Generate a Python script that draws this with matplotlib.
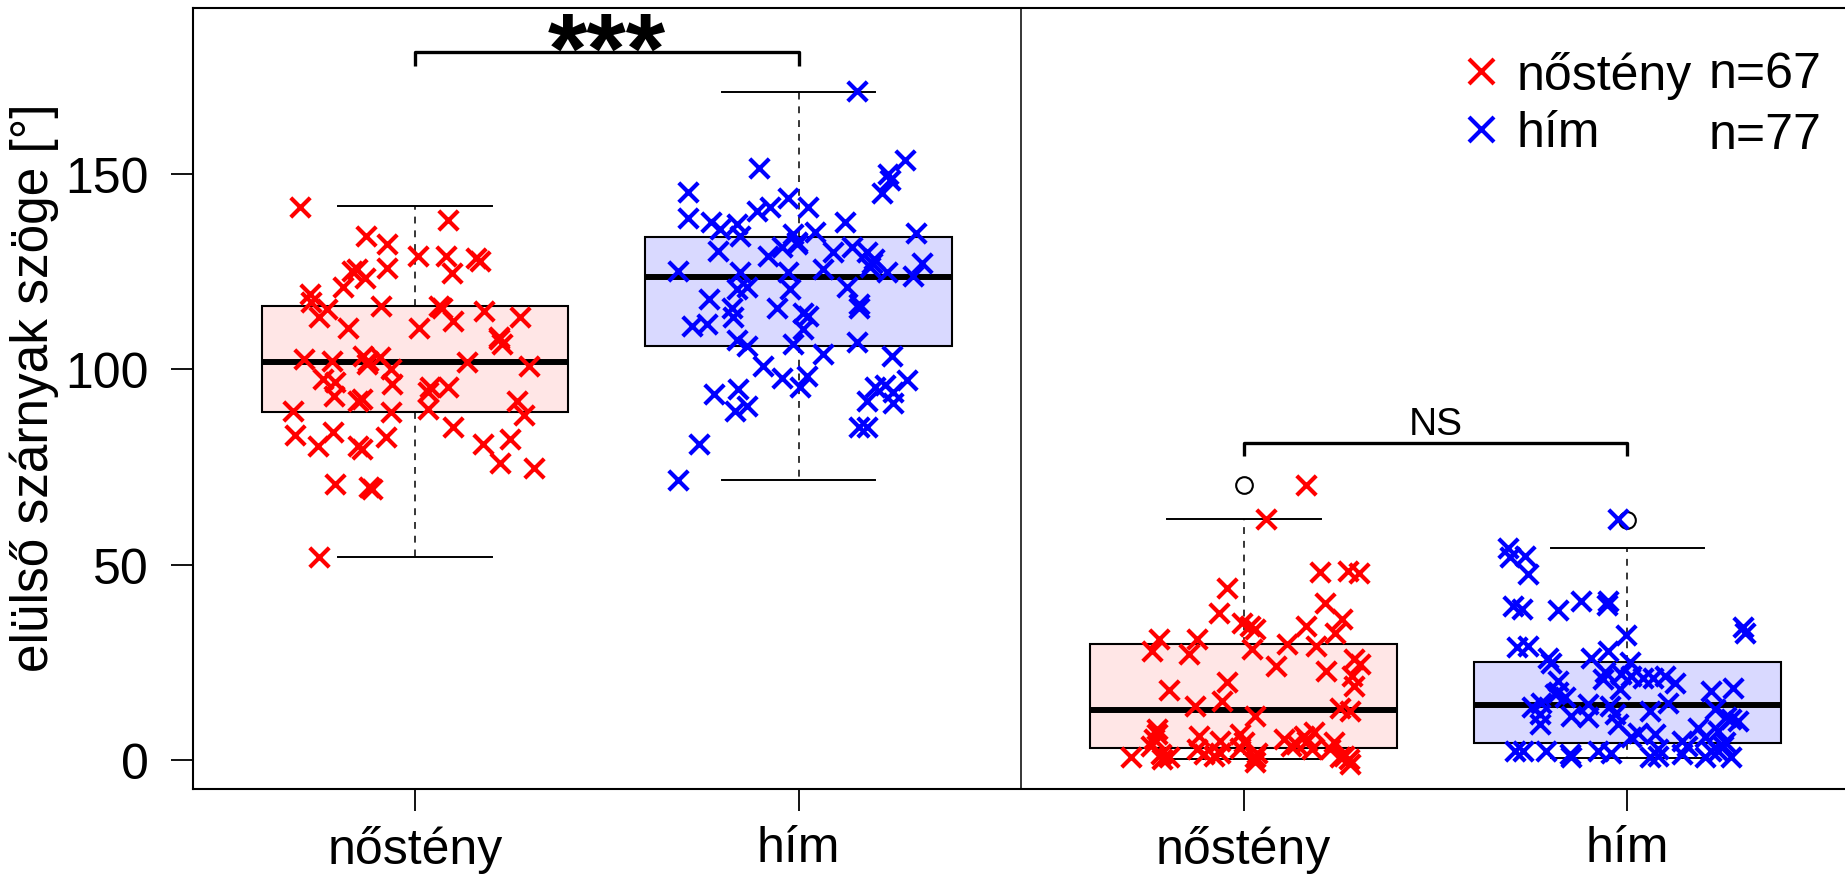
import matplotlib
matplotlib.use('Agg')
import matplotlib.pyplot as plt
from matplotlib.lines import Line2D
import numpy as np

plt.rcParams['font.family'] = ['Liberation Sans', 'DejaVu Sans']

# box positions: two panels (left / right), female then male in each
positions = [1.0, 2.0, 3.16, 4.16]
xlabels = ['nőstény', 'hím', 'nőstény', 'hím']
group_names = ['nőstény', 'hím']
group_n = [67, 77]

# box statistics
box_q1 = [89.2, 106.0, 3.3, 4.4]
box_med = [101.9, 123.5, 12.9, 14.2]
box_q3 = [116.3, 133.9, 29.8, 25.2]
box_lo = [52.1, 71.7, 0.3, 0.5]
box_hi = [141.7, 170.9, 61.7, 54.3]
box_fliers = [[], [], [70.4], [61.5]]

# jittered points: (offset from box centre, value)
left_f = [(-0.30, 141.4), (0.085, 138.2), (-0.129, 134.0), (-0.072, 132.0), (-0.072, 126.0),
          (0.007, 128.9), (0.08, 128.9), (0.096, 124.6), (0.158, 128.4), (0.17, 127.8),
          (-0.165, 125.2), (-0.152, 125.6), (-0.13, 123.3), (-0.188, 121.0), (-0.274, 119.3),
          (-0.27, 117.1), (-0.23, 115.4), (-0.25, 113.3), (-0.174, 110.7), (-0.089, 116.1),
          (0.011, 110.7), (0.063, 116.3), (0.07, 115.6), (0.10, 112.4), (0.18, 115.0),
          (0.274, 113.3), (0.22, 108.4), (0.226, 106.5), (-0.289, 102.6), (-0.217, 102.2),
          (-0.136, 103.5), (-0.122, 102.2), (-0.091, 103.1), (-0.126, 101.4), (-0.063, 100.1),
          (0.135, 101.8), (0.298, 100.9), (-0.239, 97.5), (-0.208, 96.7), (-0.21, 93.3),
          (-0.061, 96.2), (-0.139, 92.4), (-0.148, 92.0), (0.039, 95.4), (0.035, 94.1),
          (0.087, 95.6), (0.035, 89.8), (-0.063, 89.2), (-0.317, 89.4), (0.265, 92.0),
          (0.285, 88.3), (-0.314, 83.2), (-0.254, 80.5), (-0.213, 84.1), (-0.148, 80.5),
          (-0.139, 79.6), (-0.076, 82.6), (0.10, 85.2), (0.178, 80.9), (0.248, 82.3),
          (0.222, 76.0), (0.31, 74.9), (-0.209, 70.7), (-0.119, 69.8), (-0.112, 69.4),
          (-0.249, 52.1), (0.22, 107.8)]

left_m = [(0.151, 171.1), (-0.103, 151.6), (0.277, 153.6), (0.234, 150.0), (0.238, 148.3),
          (0.216, 145.2), (-0.289, 145.4), (-0.289, 138.6), (-0.228, 137.6), (-0.205, 135.9),
          (-0.162, 137.2), (-0.153, 134.1), (-0.109, 140.6), (-0.075, 141.4), (-0.027, 143.7),
          (0.025, 141.6), (0.043, 135.0), (-0.014, 134.6), (-0.005, 132.6), (0.121, 137.6),
          (0.306, 134.8), (-0.209, 130.3), (-0.044, 131.2), (-0.079, 129.1), (0.09, 129.9),
          (0.138, 131.2), (0.177, 129.9), (0.195, 128.2), (0.186, 126.1), (0.229, 124.8),
          (0.321, 127.3), (0.299, 123.9), (-0.315, 125.2), (0.064, 125.6), (-0.027, 124.8),
          (-0.153, 124.8), (-0.136, 121.0), (-0.162, 120.5), (-0.023, 120.5), (0.125, 121.0),
          (-0.235, 117.9), (-0.175, 115.8), (-0.057, 115.8), (0.156, 116.7), (0.158, 115.8),
          (0.012, 114.5), (0.025, 113.7), (-0.279, 111.1), (-0.24, 111.5), (-0.17, 113.3),
          (0.012, 110.3), (-0.162, 107.6), (-0.136, 106.0), (-0.014, 106.4), (0.151, 106.9),
          (0.064, 103.9), (0.242, 103.5), (-0.092, 100.9), (-0.044, 97.9), (0.021, 98.3),
          (0.003, 95.4), (0.281, 97.3), (0.199, 95.6), (0.225, 96.0), (0.247, 91.5),
          (0.177, 91.9), (-0.222, 93.7), (-0.157, 95.0), (-0.136, 90.7), (-0.166, 89.4),
          (0.156, 85.2), (0.177, 85.2), (-0.259, 81.0), (-0.315, 71.7), (-0.005, 132.0),
          (0.19, 127.3), (0.247, 94.1)]

right_f = [(0.163, 70.5), (0.058, 61.7), (0.198, 48.1), (0.272, 48.5), (0.30, 47.9),
           (-0.043, 44.2), (-0.065, 37.8), (0.213, 40.2), (-0.004, 35.1), (0.016, 34.4),
           (0.028, 33.5), (0.161, 34.4), (0.256, 36.1), (0.239, 32.7), (-0.222, 31.0),
           (-0.239, 28.0), (-0.123, 31.0), (-0.143, 27.2), (0.113, 29.8), (0.022, 28.4),
           (0.187, 29.3), (0.083, 24.2), (0.287, 25.9), (0.304, 24.6), (0.215, 22.9),
           (0.282, 21.6), (0.287, 19.1), (-0.195, 18.0), (-0.043, 20.0), (-0.056, 15.3),
           (-0.126, 14.0), (0.252, 13.5), (0.278, 12.7), (0.028, 11.4), (-0.226, 8.0),
           (-0.226, 6.7), (-0.235, 5.4), (-0.117, 6.3), (-0.061, 5.0), (-0.009, 6.7),
           (0.0, 4.6), (0.104, 5.4), (0.135, 4.2), (0.182, 7.2), (0.165, 5.0),
           (0.235, 4.6), (0.226, 2.9), (-0.293, 0.8), (-0.217, 1.6), (-0.195, 1.0),
           (-0.104, 1.6), (-0.078, 1.2), (0.03, 0.8), (0.035, 2.0), (0.252, 0.8),
           (0.274, 0.3), (0.261, 1.2), (-0.061, 2.0), (-0.009, 3.3), (0.122, 3.7),
           (-0.243, 3.7), (-0.122, 2.9), (0.178, 2.9), (0.03, -0.5), (0.278, -0.9),
           (-0.213, 0.3), (0.156, 6.3)]

right_m = [(-0.024, 61.7), (-0.311, 54.4), (-0.307, 51.9), (-0.268, 52.2), (-0.259, 47.7),
           (-0.298, 39.5), (-0.276, 38.7), (-0.181, 38.4), (-0.12, 40.8), (-0.05, 40.8),
           (-0.052, 39.7), (0.30, 34.0), (0.306, 32.7), (-0.003, 32.0), (-0.289, 28.9),
           (-0.259, 29.3), (-0.207, 26.3), (-0.198, 25.0), (-0.094, 26.3), (-0.05, 28.0),
           (0.006, 25.2), (-0.063, 20.8), (-0.016, 22.1), (0.01, 21.6), (0.041, 21.2),
           (0.067, 21.2), (0.097, 21.6), (0.123, 19.9), (-0.181, 20.4), (-0.02, 18.2),
           (0.219, 17.8), (0.274, 18.6), (-0.19, 17.0), (-0.163, 16.1), (-0.226, 14.8),
           (-0.102, 14.4), (-0.046, 14.0), (0.058, 12.7), (0.106, 14.8), (0.228, 13.1),
           (-0.228, 11.8), (-0.146, 11.4), (-0.102, 11.0), (-0.033, 11.8), (0.288, 10.1),
           (0.258, 11.0), (-0.024, 9.3), (-0.228, 9.3), (0.184, 8.4), (0.236, 7.6),
           (0.01, 5.9), (0.071, 6.8), (0.141, 5.0), (0.202, 5.9), (0.254, 4.6),
           (-0.294, 2.5), (-0.272, 2.5), (-0.211, 2.5), (-0.15, 1.6), (-0.146, 0.8),
           (-0.076, 2.5), (-0.042, 2.0), (0.058, 0.8), (0.08, 1.2), (0.141, 1.6),
           (0.202, 0.8), (0.236, 2.5), (0.271, 0.8), (0.25, 3.7), (0.028, 7.1),
           (0.219, 2.5), (0.154, 3.7), (-0.25, 13.6), (-0.181, 17.4), (0.08, 2.9),
           (-0.059, 22.5), (0.271, 10.6)]

point_groups = [left_f, left_m, right_f, right_m]
point_colors = ['#FF0000', '#0000FF', '#FF0000', '#0000FF']
box_fill = ['#FFE6E6', '#D9D9FF', '#FFE6E6', '#D9D9FF']

fig = plt.figure(figsize=(18.45, 8.78), dpi=100)
ax = fig.add_axes([193 / 1845, 88 / 878, 1652 / 1845, 781 / 878])

stats = []
for i in range(4):
    stats.append(dict(med=box_med[i], q1=box_q1[i], q3=box_q3[i],
                      whislo=box_lo[i], whishi=box_hi[i], fliers=box_fliers[i]))

bp = ax.bxp(stats, positions=positions, widths=0.8, capwidths=0.4, patch_artist=True,
            boxprops=dict(linewidth=1.5, edgecolor='black'),
            medianprops=dict(color='black', linewidth=4.3, solid_capstyle='butt'),
            whiskerprops=dict(color='black', linewidth=1.1, linestyle=(0, (4.5, 4.5))),
            capprops=dict(color='black', linewidth=1.4),
            flierprops=dict(marker='o', markerfacecolor='none', markeredgecolor='black',
                            markersize=12, markeredgewidth=1.5))
for patch, fc in zip(bp['boxes'], box_fill):
    patch.set_facecolor(fc)

for pos, pts, col in zip(positions, point_groups, point_colors):
    jit = np.array([p[0] for p in pts])
    val = np.array([p[1] for p in pts])
    ax.scatter(pos + jit, val, marker='x', s=14 ** 2, c=col, linewidths=3.0, zorder=3)

# panel divider
ax.axvline((positions[1] + positions[2]) / 2, color='black', lw=1.1)

# significance brackets
ax.plot([positions[0], positions[0], positions[1], positions[1]], [177.6, 181.2, 181.2, 177.6],
        color='black', lw=2.4, solid_capstyle='butt')
ax.text((positions[0] + positions[1]) / 2, 173.5, '***', ha='center', va='baseline',
        fontsize=73, fontweight='bold')
ax.plot([positions[2], positions[2], positions[3], positions[3]], [77.9, 81.1, 81.1, 77.9],
        color='black', lw=2.4, solid_capstyle='butt')
ax.text((positions[2] + positions[3]) / 2, 83.5, 'NS', ha='center', va='baseline', fontsize=28)

ax.set_xlim(0.4214, 4.727)
ax.set_ylim(-7.3, 192.4)
ax.set_xticks(positions)
ax.set_xticklabels(xlabels)
ax.set_yticks([0, 50, 100, 150])
ax.tick_params(axis='both', length=16, width=1.3, labelsize=36)
ax.tick_params(axis='y', pad=16)
ax.tick_params(axis='x', pad=10)
for s in ['left', 'bottom', 'top']:
    ax.spines[s].set_linewidth(1.5)
ax.spines['right'].set_visible(False)

ax.set_ylabel('elülső szárnyak szöge [°]', fontsize=37)
ax.yaxis.set_label_coords(-0.081, 0.515)

handles = [Line2D([], [], marker='x', color=c, linestyle='none', markersize=18, markeredgewidth=3)
           for c in ['#FF0000', '#0000FF']]
ax.legend(handles, group_names, loc='upper left', bbox_to_anchor=(0.7495, 0.971), frameon=False,
          fontsize=36, handletextpad=0.1, labelspacing=0.23, borderaxespad=0, handlelength=1.2)
for k, n in enumerate(group_n):
    ax.text(0.986, 0.915 - k * 0.078, 'n=%d' % n, transform=ax.transAxes, ha='right',
            va='center', fontsize=36)

fig.savefig('out.png', dpi=100)
